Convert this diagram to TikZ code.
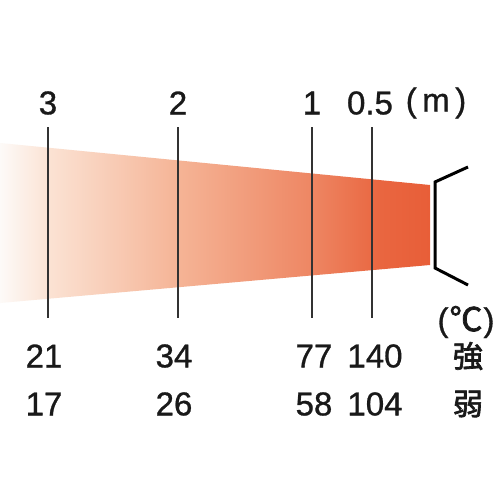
\documentclass[tikz,border=0pt]{standalone}
\usepackage{fontspec}
\setmainfont{Liberation Sans}[FakeBold=0.9]
\newfontfamily\jpfont{Noto Sans CJK JP}[FakeBold=2.2]
\definecolor{bA}{RGB}{253,250,248}
\definecolor{bB}{RGB}{251,226,211}
\definecolor{bC}{RGB}{245,180,150}
\definecolor{bD}{RGB}{238,135,100}
\definecolor{bE}{RGB}{233,102,64}
\definecolor{bF}{RGB}{232,94,56}
\pgfdeclarehorizontalshading{beamshade}{100bp}{%
  color(0bp)=(bA); color(25bp)=(bA); color(30.8bp)=(bB); color(45.7bp)=(bC);
  color(61bp)=(bD); color(69.2bp)=(bE); color(75bp)=(bF); color(100bp)=(bF)}
\definecolor{txt}{RGB}{25,25,25}
\definecolor{rule}{RGB}{50,50,50}
\tikzset{
  lbl/.style={inner sep=0pt, text=txt, font=\fontsize{33}{33}\selectfont, anchor=center},
  jlbl/.style={inner sep=0pt, text=txt, font=\fontsize{30}{30}\selectfont\jpfont, anchor=center},
  mark line/.style={draw=rule, line width=2pt},
  bracket/.style={draw=black, line width=3pt, line join=miter}
}
\begin{document}
\begin{tikzpicture}[x=1pt,y=-1pt]
\useasboundingbox (0,0) rectangle (500,500);
\fill[white] (0,0) rectangle (500,500);
% beam
\shade[shading=beamshade]
  (0,143) -- (430,185) -- (430,265) -- (0,303) -- cycle;
% distance lines
\coordinate (t3) at (48,127);  \coordinate (b3) at (48,318);
\coordinate (t2) at (178,127); \coordinate (b2) at (178,318);
\coordinate (t1) at (312,127); \coordinate (b1) at (312,318);
\coordinate (th) at (372,127); \coordinate (bh) at (372,318);
\draw[mark line] (t3) -- (b3);
\draw[mark line] (t2) -- (b2);
\draw[mark line] (t1) -- (b1);
\draw[mark line] (th) -- (bh);
% heater bracket
\coordinate (k1) at (468,167);
\coordinate (k2) at (435,182);
\coordinate (k3) at (435,268);
\coordinate (k4) at (468,285);
\draw[bracket] (k1) -- (k2) -- (k3) -- (k4);
% top labels
\node[lbl] (d3) at (48,103) {3};
\node[lbl] (d2) at (178,103) {2};
\node[lbl] (d1) at (312,103) {1};
\node[lbl] (dh) at (370,103) {0.5};
\node[lbl] (um) at (436,103) {(\,m\,)};
% unit
\node[lbl] (uc) at (466,322) {(\kern1pt{\jpfont ℃}\kern1pt)};
% row strong
\node[lbl] (s3) at (44,356) {21};
\node[lbl] (s2) at (174,356) {34};
\node[lbl] (s1) at (314,356) {77};
\node[lbl] (sh) at (375,356) {140};
\node[jlbl] (sk) at (468,356) {強};
% row weak
\node[lbl] (w3) at (44,404) {17};
\node[lbl] (w2) at (174,404) {26};
\node[lbl] (w1) at (314,404) {58};
\node[lbl] (wh) at (375,404) {104};
\node[jlbl] (wk) at (468,404) {弱};
\end{tikzpicture}
\end{document}
